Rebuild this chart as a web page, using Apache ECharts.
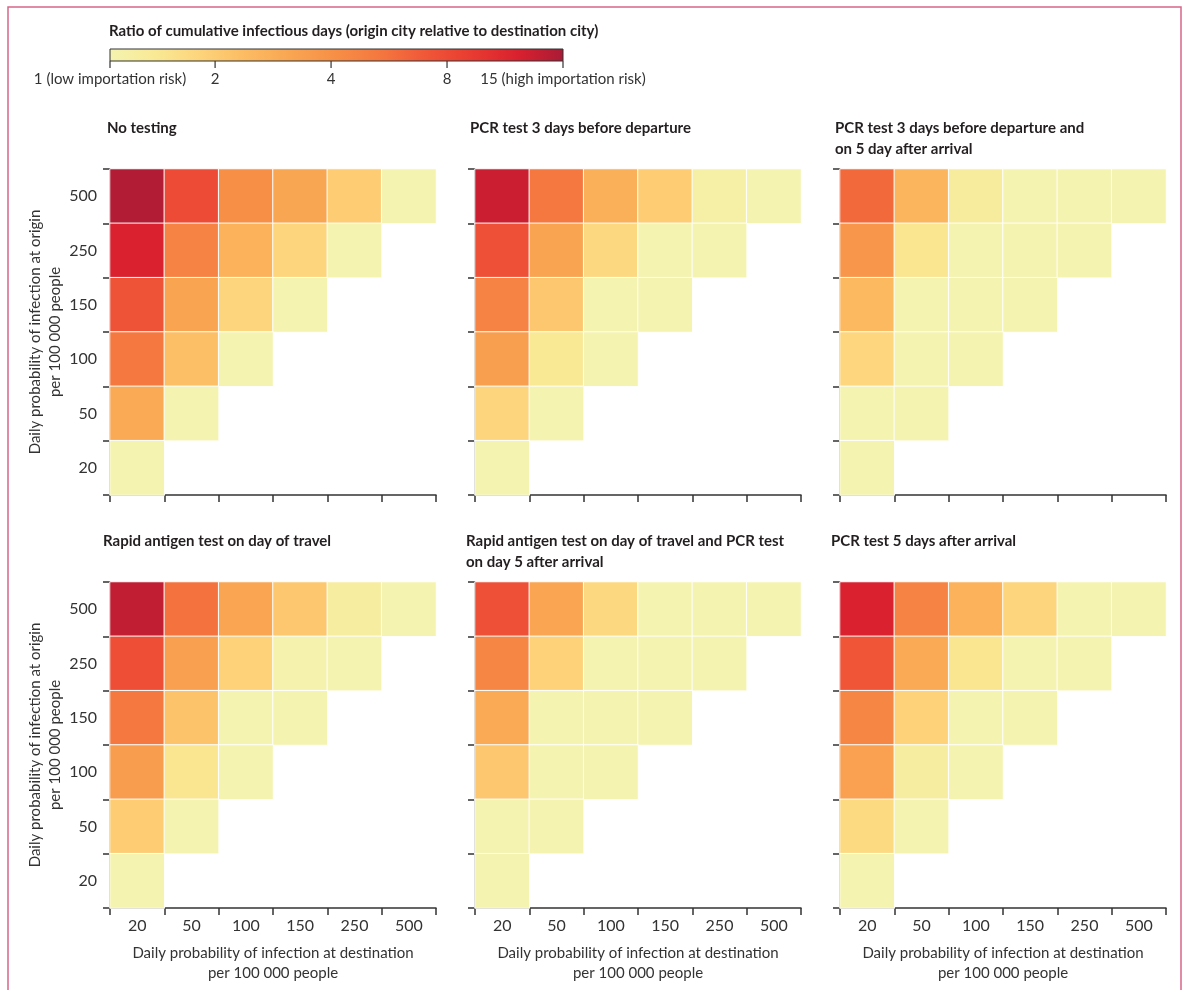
<!DOCTYPE html>
<html>
<head>
<meta charset="utf-8">
<script src="https://cdn.jsdelivr.net/npm/echarts@6/dist/echarts.min.js"></script>
<style>
html,body{margin:0;padding:0;background:#fff;}
#chart{width:1184px;height:990px;}
</style>
</head>
<body>
<div id="chart"></div>
<script>
// ---------- data ----------
const destCats = ['20', '50', '100', '150', '250', '500'];
const originCats = ['20', '50', '100', '150', '250', '500'];
// rows: origin 500, 250, 150, 100, 50, 20 ; columns: destination 20, 50, 100, ...
const noTesting = [
  [14.3, 7.9, 4.1, 3.1, 2.0, 1.0],
  [11.7, 4.7, 2.7, 1.8, 1.0],
  [7.3, 3.2, 1.8, 1.0],
  [5.3, 2.3, 1.0],
  [3.0, 1.0],
  [1.0]
];
const pcrBefore = [
  [12.6, 5.3, 2.8, 2.0, 1.1, 1.0],
  [7.5, 3.2, 1.7, 1.0, 1.0],
  [4.7, 2.1, 1.0, 1.0],
  [3.4, 1.35, 1.0],
  [1.8, 1.0],
  [1.0]
];
const pcrBeforeAndDay5 = [
  [6.0, 2.6, 1.23, 1.0, 1.0, 1.0],
  [3.7, 1.43, 1.0, 1.0, 1.0],
  [2.47, 1.0, 1.0, 1.0],
  [1.76, 1.0, 1.0],
  [1.0, 1.0],
  [1.0]
];
const antigenTravel = [
  [13.3, 5.6, 3.15, 2.1, 1.2, 1.0],
  [7.7, 3.33, 1.87, 1.03, 1.0],
  [5.3, 2.2, 1.0, 1.0],
  [3.5, 1.43, 1.0],
  [2.0, 1.0],
  [1.0]
];
const antigenAndPcrDay5 = [
  [7.5, 3.15, 1.71, 1.0, 1.0, 1.0],
  [4.5, 1.87, 1.0, 1.0, 1.0],
  [3.0, 1.0, 1.0, 1.0],
  [2.1, 1.0, 1.0],
  [1.0, 1.0],
  [1.0]
];
const pcrDay5 = [
  [11.7, 4.7, 2.7, 1.8, 1.0, 1.0],
  [7.2, 3.0, 1.43, 1.0, 1.0],
  [4.5, 1.87, 1.0, 1.0],
  [3.3, 1.2, 1.0],
  [1.67, 1.0],
  [1.0]
];
const panelTitles = [
  'No testing',
  'PCR test 3 days before departure',
  'PCR test 3 days before departure and\non 5 day after arrival',
  'Rapid antigen test on day of travel',
  'Rapid antigen test on day of travel and PCR test\non day 5 after arrival',
  'PCR test 5 days after arrival'
];
const panelData = [noTesting, pcrBefore, pcrBeforeAndDay5, antigenTravel, antigenAndPcrDay5, pcrDay5];
const legendTitle = 'Ratio of cumulative infectious days (origin city relative to destination city)';
const legendTicks = [1, 2, 4, 8, 15];
const legendLabels = ['1 (low importation risk)', '2', '4', '8', '15 (high importation risk)'];
const yName = 'Daily probability of infection at origin\nper 100 000 people';
const xName = 'Daily probability of infection at destination\nper 100 000 people';

// ---------- styling / layout ----------
const FONT = 'Lato, "Noto Sans", sans-serif';
const TXT = '#333';
const colorStops = ['#f4f3b0', '#f9e995', '#fdd47b', '#fcbb62', '#f9a552', '#f78e46',
  '#f4763f', '#f05638', '#e83a31', '#d9212f', '#a91b36'];
// position of each legend tick along the colour bar (fraction of bar length)
const tickFrac = [0, 0.232, 0.488, 0.744, 1];
function ratioToFrac(v) {
  if (v <= legendTicks[0]) return 0;
  for (let i = 0; i < legendTicks.length - 1; i++) {
    const a = legendTicks[i], b = legendTicks[i + 1];
    if (v <= b) {
      const f = Math.log(v / a) / Math.log(b / a);
      return tickFrac[i] + f * (tickFrac[i + 1] - tickFrac[i]);
    }
  }
  return 1;
}

const colLeft = [110, 475, 840];
const rowTop = [169, 582];
const size = 326;

const grids = [], xAxes = [], yAxes = [], series = [], titles = [];
panelData.forEach((rows, p) => {
  const col = p % 3, row = Math.floor(p / 3);
  grids.push({ left: colLeft[col], top: rowTop[row], width: size, height: size });
  const axisLine = { show: true, lineStyle: { color: '#333', width: 1.5 } };
  const axisTick = { show: true, length: 7, lineStyle: { color: '#333', width: 1.5 } };
  xAxes.push({
    type: 'category', gridIndex: p, data: destCats, position: 'bottom',
    axisLine, axisTick, splitLine: { show: false },
    axisLabel: { show: row === 1, fontSize: 16, color: TXT, fontFamily: FONT, margin: 10 },
    name: row === 1 ? xName : '', nameLocation: 'middle', nameGap: 35,
    nameTextStyle: { fontSize: 15, color: TXT, fontFamily: FONT, lineHeight: 20 }
  });
  yAxes.push({
    type: 'category', gridIndex: p, data: originCats,
    axisLine, axisTick, splitLine: { show: false },
    axisLabel: { show: col === 0, fontSize: 16, color: TXT, fontFamily: FONT, margin: 13 },
    name: col === 0 ? yName : '', nameLocation: 'middle', nameGap: 43,
    nameTextStyle: { fontSize: 15, color: TXT, fontFamily: FONT, lineHeight: 20 }
  });
  const data = [];
  rows.forEach((vals, r) => {
    vals.forEach((v, c) => {
      data.push([c, originCats.length - 1 - r, ratioToFrac(v), v]);
    });
  });
  series.push({
    type: 'heatmap', xAxisIndex: p, yAxisIndex: p, data,
    itemStyle: { borderColor: '#fff', borderWidth: 1 },
    emphasis: { disabled: true }
  });
  titles.push({
    text: panelTitles[p],
    left: colLeft[col] - (col === 0 ? 3 : 5) - (row === 1 ? 4 : 0),
    top: rowTop[row] - 51,
    padding: 0,
    textStyle: { fontSize: 15, fontWeight: 'bold', color: '#231f20', fontFamily: FONT, lineHeight: 21 }
  });
});

// colour bar (legend)
const barX = 110, barY = 49, barW = 453, barH = 12;
const graphics = [
  { type: 'rect', shape: { x: 8, y: 7, width: 1173, height: 1000 }, style: { fill: 'none', stroke: '#d9668a', lineWidth: 1.5 }, silent: true },
  { type: 'text', x: 109, y: 31, style: { text: legendTitle, font: 'bold 15px ' + FONT, fill: '#231f20', textVerticalAlign: 'middle' } },
  { type: 'rect', shape: { x: barX, y: barY, width: barW, height: barH },
    style: {
      fill: new echarts.graphic.LinearGradient(0, 0, 1, 0,
        colorStops.map((c, i) => ({ offset: i / (colorStops.length - 1), color: c }))),
      stroke: '#333', lineWidth: 1
    } }
];
legendTicks.forEach((t, i) => {
  const x = barX + tickFrac[i] * barW;
  graphics.push({ type: 'line', shape: { x1: x, y1: barY + barH, x2: x, y2: barY + barH + 7 }, style: { stroke: '#333', lineWidth: 1.2 } });
  graphics.push({ type: 'text', x: x, y: 79, style: { text: legendLabels[i], font: '15px ' + FONT, fill: TXT, textAlign: 'center', textVerticalAlign: 'middle' } });
});

const chart = echarts.init(document.getElementById('chart'));
chart.setOption({
  animation: false,
  backgroundColor: '#fff',
  title: titles,
  grid: grids,
  xAxis: xAxes,
  yAxis: yAxes,
  visualMap: { type: 'continuous', show: false, min: 0, max: 1, dimension: 2, seriesIndex: series.map((s, i) => i), inRange: { color: colorStops } },
  series,
  graphic: graphics
});
</script>
</body>
</html>
